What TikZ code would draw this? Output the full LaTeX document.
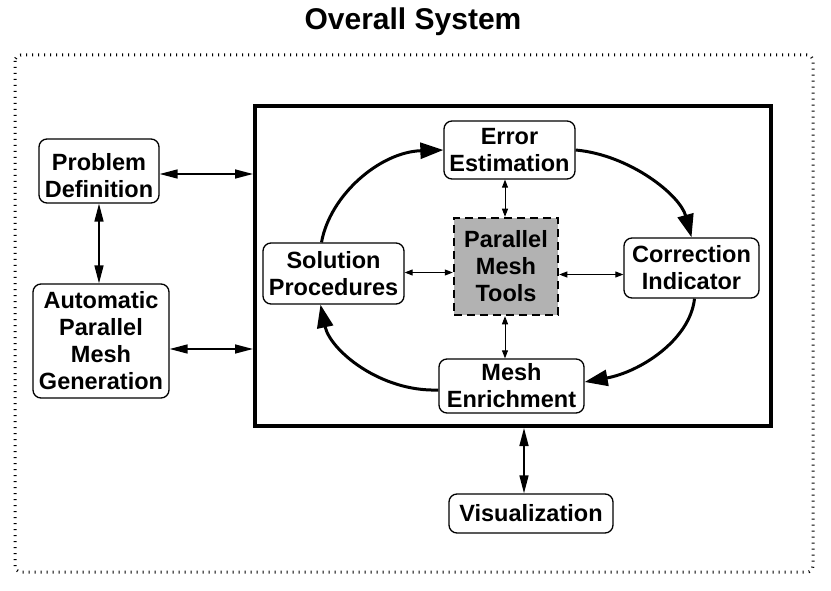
\documentclass[tikz,border=0pt]{standalone}
\usepackage{fontspec}
\setmainfont{Liberation Sans}
\usetikzlibrary{arrows.meta,calc}
\tikzset{
  box/.style={draw, line width=1.3pt, rounded corners=8pt, align=center, inner sep=0pt,
    font=\bfseries\fontsize{23.5}{27}\selectfont},
  dbl/.style={line width=1.5pt, {Triangle[length=18pt,width=9pt]}-{Triangle[length=18pt,width=9pt]}},
  sdbl/.style={line width=1pt, {Triangle[length=8pt,width=6pt]}-{Triangle[length=8pt,width=6pt]}},
  loop/.style={line width=3pt, -{Triangle[length=23pt,width=16pt]}},
}
\begin{document}
\begin{tikzpicture}[x=1pt,y=-1pt]
\useasboundingbox (0,0) rectangle (831,591);
\node[font=\bfseries\fontsize{30}{34}\selectfont] (title) at (413,22) {Overall System};
\draw[line width=3pt, dash pattern=on 1pt off 5pt, rounded corners=6pt] (15,55) rectangle (813,572);
\node[draw, line width=4pt, minimum width=516pt, minimum height=320pt, inner sep=0pt] (sys) at (513,266) {};
\node[box, minimum width=120pt, minimum height=64pt] (prob) at (99,171) {\rule{0pt}{26pt}Problem\\Definition};
\node[box, minimum width=136pt, minimum height=114pt] (auto) at (101,341) {Automatic\\Parallel\\Mesh\\Generation};
\node[box, minimum width=131pt, minimum height=58pt] (err) at (509.5,150) {Error\\Estimation};
\node[box, minimum width=135pt, minimum height=60pt] (corr) at (691.5,268) {Correction\\Indicator};
\node[box, minimum width=141pt, minimum height=61pt] (sol) at (333.5,273.5) {Solution\\Procedures};
\node[box, rounded corners=0pt, line width=2.5pt, dash pattern=on 8pt off 5pt, fill=black!30,
  minimum width=104pt, minimum height=97pt] (pmt) at (506,266.5) {Parallel\\Mesh\\Tools};
\node[box, minimum width=145pt, minimum height=54pt] (mesh) at (511.5,386) {Mesh\\Enrichment};
\node[box, minimum width=164pt, minimum height=39pt] (vis) at (531,513.5) {Visualization};
% helper coordinates
\coordinate (pe) at ($(prob.east)+(0,3)$);
\coordinate (ae) at ($(auto.east)+(0,8)$);
\coordinate (vn) at ($(vis.north)+(-7,0)$);
\coordinate (pn) at ($(pmt.north)+(-1,0)$);
\coordinate (ps) at ($(pmt.south)+(-1,0)$);
\coordinate (pw) at ($(pmt.west)+(0,6)$);
\coordinate (pr) at ($(pmt.east)+(0,8)$);
% straight connectors
\draw[dbl] (pe) -- (pe -| sys.west);
\draw[dbl] (ae) -- (ae -| sys.west);
\draw[dbl] (prob.south) -- (prob.south |- auto.north);
\draw[dbl] (vn) -- (vn |- sys.south);
\draw[sdbl] (pn) -- (pn |- err.south);
\draw[sdbl] (ps) -- (ps |- mesh.north);
\draw[sdbl] (pw) -- (pw -| sol.east);
\draw[sdbl] (pr) -- (pr -| corr.west);
% loop
\draw[loop] ($(sol.north)+(-12,0)$) .. controls (330,195) and (380,152) .. (err.west);
\draw[loop] (err.east) .. controls (630,155) and (680,195) .. (corr.north);
\draw[loop] ($(corr.south)+(3,0)$) .. controls (690,340) and (640,372) .. ($(mesh.east)+(0,-4)$);
\draw[loop] ($(mesh.west)+(0,4)$) .. controls (380,392) and (330,350) .. ($(sol.south)+(-13,0)$);
\end{tikzpicture}
\end{document}
